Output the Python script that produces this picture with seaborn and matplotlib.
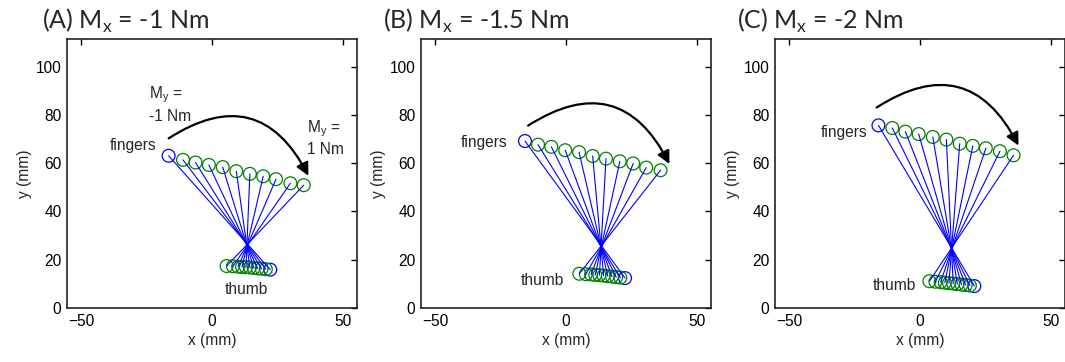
import numpy as np
import pandas as pd
import matplotlib
matplotlib.use("Agg")
import matplotlib.pyplot as plt
import seaborn as sns
from matplotlib.patches import FancyArrowPatch

# ---------------- data (mm) ----------------
panel_titles = ["(A) M$_\\mathregular{x}$ = -1 Nm",
                "(B) M$_\\mathregular{x}$ = -1.5 Nm",
                "(C) M$_\\mathregular{x}$ = -2 Nm"]

fingers_x_A = [-16.6, -11.1, -6.3, -1.2, 4.1, 9.3, 14.5, 19.6, 24.5, 30.0, 35.1]
fingers_y_A = [63.1, 61.4, 60.3, 59.3, 58.4, 56.7, 55.6, 54.6, 53.4, 51.7, 50.9]
thumb_x_A = [22.3, 20.6, 19.0, 17.5, 16.0, 14.5, 13.0, 11.5, 10.0, 8.0, 5.6]
thumb_y_A = [15.9, 16.1, 16.3, 16.4, 16.6, 16.8, 16.9, 17.0, 17.1, 17.3, 17.4]

fingers_x_B = [-15.7, -10.7, -5.6, -0.3, 5.0, 10.2, 15.3, 20.6, 25.7, 30.7, 36.2]
fingers_y_B = [69.2, 67.7, 66.8, 65.4, 64.6, 63.0, 61.9, 60.8, 59.9, 58.2, 57.1]
thumb_x_B = [22.6, 20.8, 19.2, 17.6, 16.0, 14.4, 12.8, 11.2, 9.6, 7.6, 5.1]
thumb_y_B = [12.4, 12.6, 12.8, 13.0, 13.2, 13.4, 13.6, 13.7, 13.9, 14.0, 14.2]

fingers_x_C = [-15.9, -10.6, -5.6, -0.5, 4.9, 10.1, 15.2, 20.2, 25.2, 30.6, 35.8]
fingers_y_C = [75.7, 74.6, 73.1, 72.1, 70.9, 69.8, 68.1, 67.2, 66.2, 65.0, 63.3]
thumb_x_C = [20.8, 19.1, 17.5, 15.9, 14.3, 12.7, 11.1, 9.5, 7.9, 5.9, 3.6]
thumb_y_C = [9.1, 9.3, 9.5, 9.7, 9.9, 10.1, 10.3, 10.5, 10.7, 10.9, 11.1]

# arrow start / end (data coords)
arrow_A = [(-16.6, 70.3), (36.9, 54.8)]
arrow_B = [(-14.5, 75.6), (39.6, 59.7)]
arrow_C = [(-16.6, 83.1), (37.7, 67.3)]

x_ticks = [-50, 0, 50]
y_ticks = [0, 20, 40, 60, 80, 100]

panels = [
    (fingers_x_A, fingers_y_A, thumb_x_A, thumb_y_A, arrow_A),
    (fingers_x_B, fingers_y_B, thumb_x_B, thumb_y_B, arrow_B),
    (fingers_x_C, fingers_y_C, thumb_x_C, thumb_y_C, arrow_C),
]

# ---------------- style ----------------
sns.set_style("white")
plt.rcParams["font.family"] = ["Liberation Sans", "DejaVu Sans"]
plt.rcParams["mathtext.fontset"] = "custom"

W, H = 1065, 362
fig = plt.figure(figsize=(W / 100, H / 100), dpi=100)

ax_lefts = [67, 421, 775]
ax_w, ax_top, ax_bot = 290, 39, 308
title_x = [42, 383, 737]

BLUE = "#0000ff"
GREEN = "#008000"
FS = 11.2

for k, (fx, fy, tx, ty, arr) in enumerate(panels):
    ax = fig.add_axes([ax_lefts[k] / W, (H - ax_bot) / H, ax_w / W, (ax_bot - ax_top) / H])
    n = len(fx)
    seg = pd.DataFrame({
        "seg": np.repeat(np.arange(n), 2),
        "x": np.ravel(np.column_stack([fx, tx])),
        "y": np.ravel(np.column_stack([fy, ty])),
    })
    sns.lineplot(data=seg, x="x", y="y", units="seg", estimator=None, sort=False,
                 color=BLUE, lw=0.8, ax=ax, legend=False)
    cols = [BLUE] + [GREEN] * (n - 1)
    for xs, ys in ((fx, fy), (tx, ty)):
        sns.scatterplot(x=xs, y=ys, ax=ax, s=85, marker="o", legend=False)
        coll = ax.collections[-1]
        coll.set_facecolor("none")
        coll.set_edgecolor(cols)
        coll.set_linewidth(0.9)

    ar = FancyArrowPatch(arr[0], arr[1], connectionstyle="arc3,rad=-0.55",
                         arrowstyle="-|>", mutation_scale=19, lw=1.6,
                         color="black", shrinkA=0, shrinkB=0)
    ax.add_patch(ar)

    ax.set_xlim(-55.5, 55.5)
    ax.set_ylim(0, 111.5)
    ax.set_xticks(x_ticks)
    ax.set_yticks(y_ticks)
    ax.tick_params(direction="in", top=True, right=True, length=4, width=1,
                   labelsize=FS, colors="black", pad=4)
    for sp in ax.spines.values():
        sp.set_visible(True)
        sp.set_color("#222222")
        sp.set_linewidth(1.2)
    ax.set_xlabel("x (mm)", fontsize=FS, labelpad=3)
    ax.set_ylabel("y (mm)", fontsize=FS, labelpad=3)

    fig.text(title_x[k] / W, 1 - 29 / H, panel_titles[k], fontsize=18,
             family=["Lato", "DejaVu Sans"], ha="left", va="baseline")

    # annotations
    if k == 0:
        ax.text(-21.4, 67.5, "fingers", ha="right", va="center", fontsize=FS)
        ax.text(13.2, 7.6, "thumb", ha="center", va="center", fontsize=FS)
        ax.text(-24, 88.3, "M$_\\mathregular{y}$ =", ha="left", va="center", fontsize=FS)
        ax.text(-24, 79.3, "-1 Nm", ha="left", va="center", fontsize=FS)
        ax.text(36.5, 74.4, "M$_\\mathregular{y}$ =", ha="left", va="center", fontsize=FS)
        ax.text(36.5, 65.9, "1 Nm", ha="left", va="center", fontsize=FS)
    elif k == 1:
        ax.text(-22.4, 68.7, "fingers", ha="right", va="center", fontsize=FS)
        ax.text(-0.6, 11.2, "thumb", ha="right", va="center", fontsize=FS)
    else:
        ax.text(-20.1, 72.8, "fingers", ha="right", va="center", fontsize=FS)
        ax.text(-1.3, 9.3, "thumb", ha="right", va="center", fontsize=FS)

fig.savefig("out.png", dpi=100)
